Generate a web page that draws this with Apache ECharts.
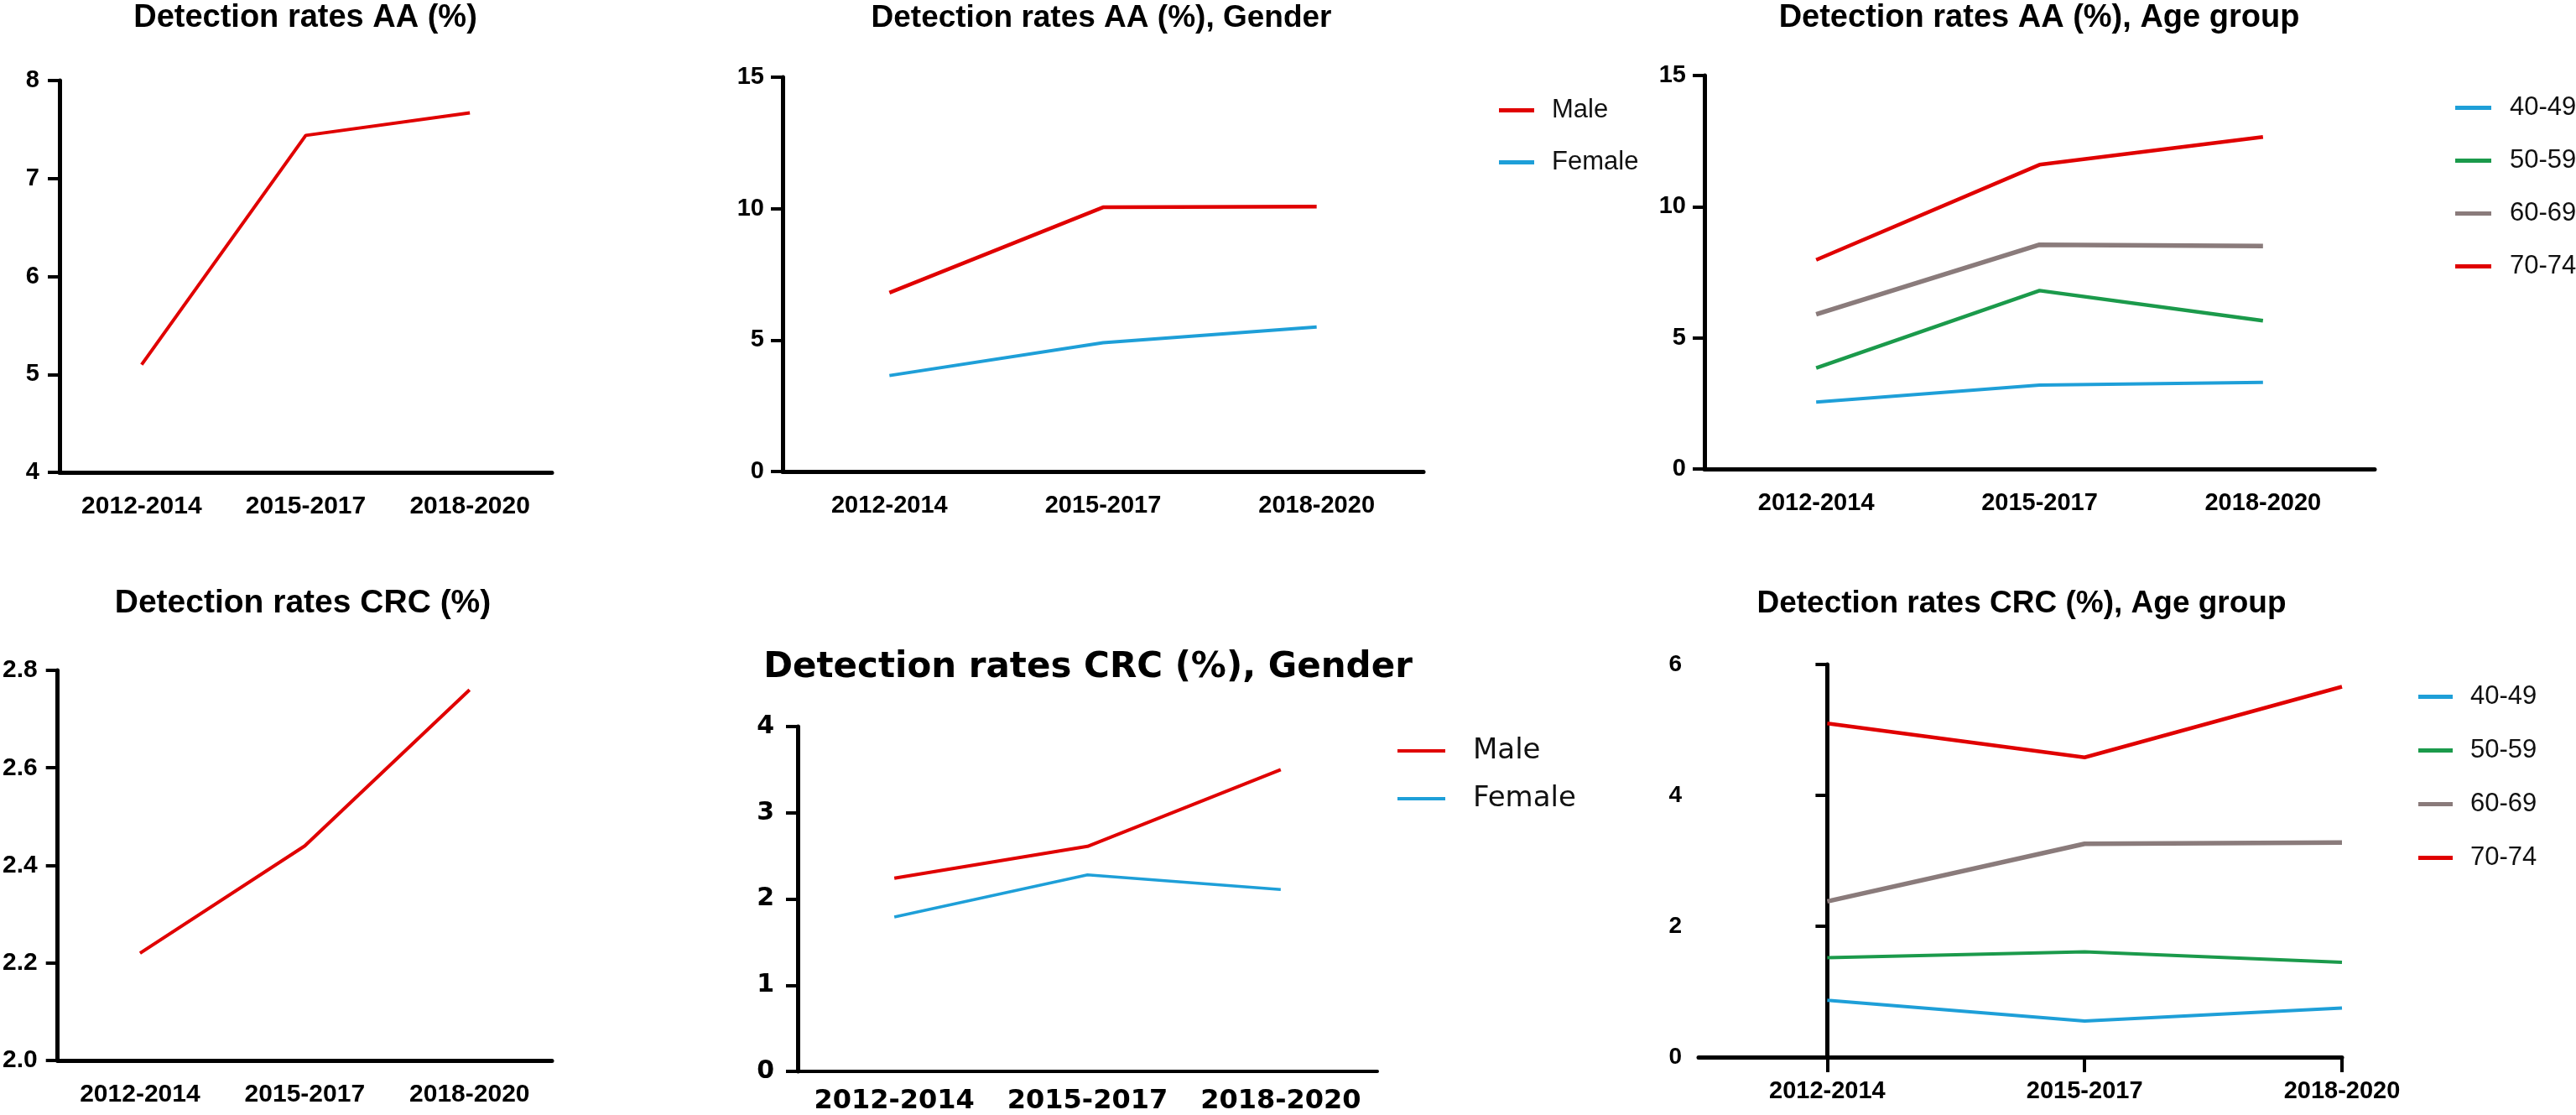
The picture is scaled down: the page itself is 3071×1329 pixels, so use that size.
<!DOCTYPE html>
<html>
<head>
    <meta charset="utf-8">
    <title>Detection rates</title>
    <script src="https://cdn.jsdelivr.net/npm/echarts@6/dist/echarts.min.js"></script>
    <style>
        html, body {margin: 0; padding: 0; background: #fff;}
        #main {width: 3071px; height: 1329px;}
    </style>
</head>
<body>
<div id="main"></div>
<script type="text/javascript">
    // 数据
    var cats = ['2012-2014', '2015-2017', '2018-2020'];

    var aaTotal = [5.1, 7.44, 7.67];
    var aaMale = [6.8, 10.05, 10.08];
    var aaFemale = [3.65, 4.9, 5.5];
    var aa4049 = [2.55, 3.2, 3.3];
    var aa5059 = [3.85, 6.8, 5.65];
    var aa6069 = [5.9, 8.55, 8.5];
    var aa7074 = [7.97, 11.6, 12.66];

    var crcTotal = [2.22, 2.44, 2.76];
    var crcMale = [2.24, 2.61, 3.5];
    var crcFemale = [1.79, 2.28, 2.11];
    var crc4049 = [0.87, 0.55, 0.75];
    var crc5059 = [1.52, 1.61, 1.45];
    var crc6069 = [2.38, 3.26, 3.28];
    var crc7074 = [5.1, 4.58, 5.66];

    var RED = '#e00000', BLUE = '#1e9fd8', GREEN = '#1b9a4b', GRAY = '#8a7b7b';
    var narrow = "'Liberation Sans', Arial, sans-serif";
    var wide = "'DejaVu Sans', sans-serif";

    function yAx(idx, min, max, interval, font, size, margin, fmt) {
        return {
            type: 'value', gridIndex: idx, min: min, max: max, interval: interval,
            splitLine: {show: false},
            axisLine: {show: true, lineStyle: {color: '#000', width: 5}},
            axisTick: {show: true, length: 14, lineStyle: {color: '#000', width: 4}},
            axisLabel: {color: '#000', fontFamily: font, fontWeight: 'bold', fontSize: size, margin: margin, formatter: fmt}
        };
    }

    function xCat(idx, font, size, margin, axisW) {
        return {
            type: 'category', gridIndex: idx, data: cats, boundaryGap: true,
            axisLine: {lineStyle: {color: '#000', width: axisW}},
            axisTick: {alignWithLabel: true, interval: 0, length: 18, lineStyle: {color: '#000', width: 4}},
            axisLabel: {interval: 0, color: '#000', fontFamily: font, fontWeight: 'bold', fontSize: size, margin: margin}
        };
    }

    function line(name, x, y, data, color, w) {
        return {
            name: name, type: 'line', xAxisIndex: x, yAxisIndex: y, data: data,
            symbol: 'none', lineStyle: {color: color, width: w}, itemStyle: {color: color}, z: 5
        };
    }

    function legendBox(left, top, names, colors, font, size, gap, iw, ih, pad) {
        return {
            orient: 'vertical', left: left, top: top, itemGap: gap, itemWidth: iw, itemHeight: ih,
            icon: 'rect', selectedMode: false,
            data: names.map(function (n, i) { return {name: n, itemStyle: {color: colors[i]}}; }),
            textStyle: {fontFamily: font, fontSize: size, lineHeight: size, color: '#111', padding: [0, 0, 0, pad]}
        };
    }

    function titleBox(text, x, top, font, size) {
        return {
            text: text, left: x, top: top, textAlign: 'center', padding: 0,
            textStyle: {fontFamily: font, fontWeight: 'bold', fontSize: size, color: '#000'}
        };
    }

    var ages = ['40-49', '50-59', '60-69', '70-74'];
    var ageColors = [BLUE, GREEN, GRAY, RED];

    var myChart = echarts.init(document.getElementById('main'));

    var option = {
        animation: false,
        backgroundColor: '#fff',
        title: [
            titleBox('Detection rates AA (%)', 364, 3, narrow, 38),
            titleBox('Detection rates AA (%), Gender', 1313, 3, narrow, 37),
            titleBox('Detection rates AA (%), Age group', 2431, 3, narrow, 38),
            titleBox('Detection rates CRC (%)', 361, 700, narrow, 39),
            titleBox('Detection rates CRC (%), Gender', 1297, 775, wide, 42),
            titleBox('Detection rates CRC (%), Age group', 2410, 701, narrow, 37)
        ],
        legend: [
            legendBox(1782, 111, ['Male', 'Female'], [RED, BLUE], narrow, 31, 31, 42, 5, 16),
            legendBox(2922, 108, ages, ageColors, narrow, 31, 32, 43, 5, 17),
            legendBox(1661, 873, ['Male', 'Female'], [RED, BLUE], wide, 34, 23, 57, 4, 28),
            legendBox(2878, 810, ages, ageColors, narrow, 31, 33, 41, 5, 16)
        ],
        grid: [
            {left: 71, top: 96, width: 587, height: 467},
            {left: 933, top: 92, width: 764, height: 470},
            {left: 2032, top: 90, width: 799, height: 469},
            {left: 66, top: 799, width: 592, height: 465},
            {left: 951, top: 866, width: 691, height: 412},
            {left: 2025, top: 792, width: 767, height: 468}
        ],
        xAxis: [
            xCat(0, narrow, 30, 26, 5),
            xCat(1, narrow, 29, 26, 5),
            xCat(2, narrow, 29, 26, 5),
            xCat(3, narrow, 30, 26, 5),
            xCat(4, wide, 32, 20, 4),
            {
                type: 'value', gridIndex: 5, min: -0.5, max: 2,
                splitLine: {show: false},
                axisLine: {lineStyle: {color: '#000', width: 5}},
                axisTick: {customValues: [0, 1, 2], length: 18, lineStyle: {color: '#000', width: 4}},
                axisLabel: {
                    customValues: [0, 1, 2], color: '#000', fontFamily: narrow, fontWeight: 'bold',
                    fontSize: 29, margin: 26,
                    formatter: function (v) { return cats[v]; }
                }
            }
        ],
        yAxis: [
            yAx(0, 4, 8, 1, narrow, 29, 24),
            yAx(1, 0, 15, 5, narrow, 29, 22),
            yAx(2, 0, 15, 5, narrow, 29, 22),
            yAx(3, 2.0, 2.8, 0.2, narrow, 30, 24, function (v) { return v.toFixed(1); }),
            yAx(4, 0, 4, 1, wide, 30, 28),
            yAx(5, 0, 6, 2, narrow, 28, 20)
        ],
        series: [
            line('AA', 0, 0, aaTotal, RED, 4),
            line('Male', 1, 1, aaMale, RED, 4.5),
            line('Female', 1, 1, aaFemale, BLUE, 4),
            line('40-49', 2, 2, aa4049, BLUE, 4),
            line('50-59', 2, 2, aa5059, GREEN, 4.5),
            line('60-69', 2, 2, aa6069, GRAY, 5.5),
            line('70-74', 2, 2, aa7074, RED, 4.5),
            line('CRC', 3, 3, crcTotal, RED, 4),
            line('Male', 4, 4, crcMale, RED, 4),
            line('Female', 4, 4, crcFemale, BLUE, 3.5),
            line('40-49', 5, 5, crc4049.map(function (v, i) { return [i, v]; }), BLUE, 4),
            line('50-59', 5, 5, crc5059.map(function (v, i) { return [i, v]; }), GREEN, 4),
            line('60-69', 5, 5, crc6069.map(function (v, i) { return [i, v]; }), GRAY, 5.5),
            line('70-74', 5, 5, crc7074.map(function (v, i) { return [i, v]; }), RED, 4.5)
        ]
    };

    myChart.setOption(option);
</script>
</body>
</html>
